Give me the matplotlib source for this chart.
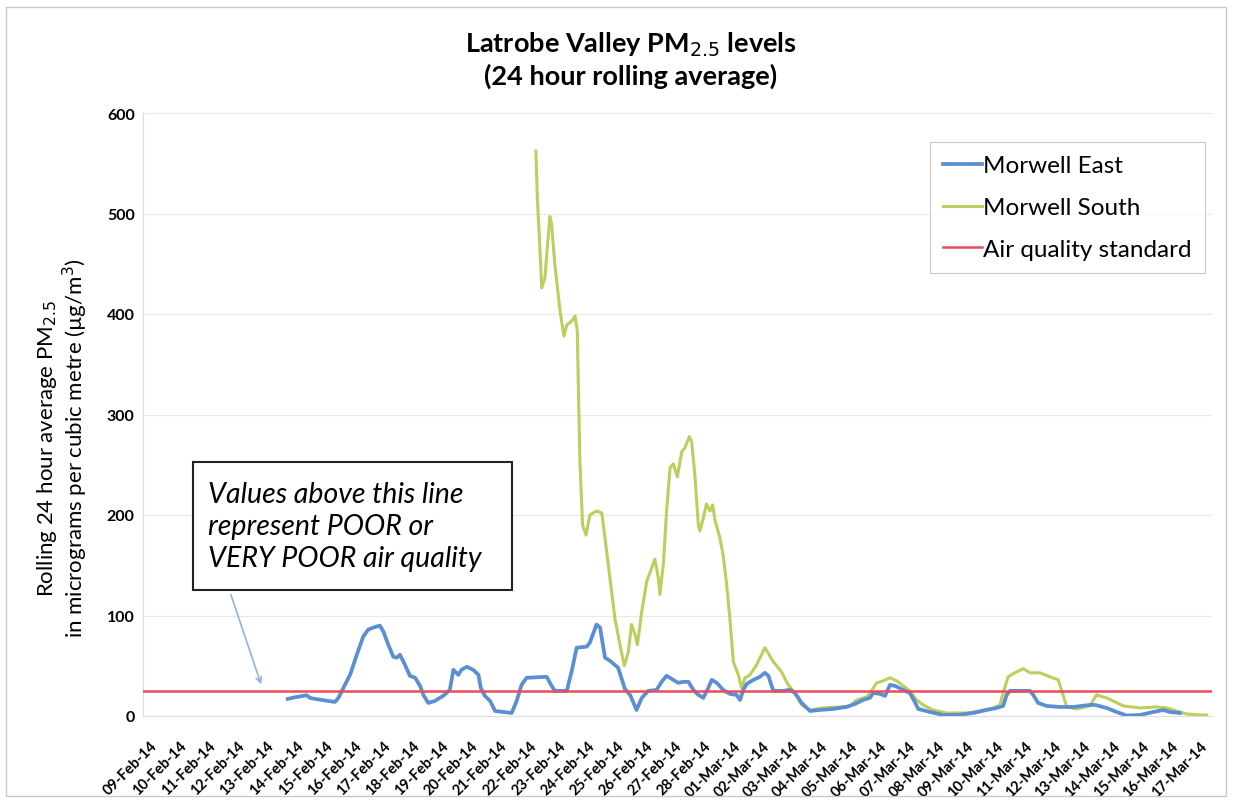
import matplotlib
matplotlib.use("Agg")
import matplotlib.pyplot as plt
from matplotlib.patches import Rectangle
import pandas as pd

# ---- data (x = days since 09-Feb-14 00:00) ----
east_day = [4.72, 4.97, 5.37, 5.49, 5.66, 6.06, 6.34, 6.46, 6.63, 6.86, 7.09, 7.31, 7.48, 7.66, 7.88,
            8.00, 8.17, 8.34, 8.46, 8.57, 8.74, 8.91, 9.09, 9.26, 9.37, 9.54, 9.77, 10.05, 10.28, 10.40,
            10.57, 10.68, 10.86, 11.08, 11.26, 11.34, 11.48, 11.66, 11.83, 12.11, 12.40, 12.57, 12.74,
            12.91, 13.60, 13.77, 13.88, 14.29, 14.46, 14.63, 14.97, 15.08, 15.31, 15.43, 15.60, 15.77,
            16.05, 16.28, 16.46, 16.68, 16.86, 17.08, 17.37, 17.54, 17.71, 17.94, 18.11, 18.28, 18.46,
            18.63, 18.80, 18.97, 19.14, 19.26, 19.43, 19.65, 19.88, 20.11, 20.23, 20.34, 20.46, 20.69,
            20.91, 21.08, 21.20, 21.37, 21.71, 21.94, 22.11, 22.34, 22.63, 22.97, 23.42, 23.88, 24.17,
            24.45, 24.68, 24.80, 25.02, 25.20, 25.37, 25.54, 25.82, 26.05, 26.22, 26.34, 26.74, 27.20,
            27.66, 28.22, 28.68, 29.03, 29.25, 29.37, 29.48, 30.17, 30.28, 30.45, 30.74, 31.20, 31.65,
            32.22, 32.40, 32.80, 33.14, 33.48, 33.94, 34.40, 34.74, 34.97, 35.31]
east_val = [17, 18.6, 20.6, 18, 17, 15.2, 14, 18, 28, 41, 61, 79, 86, 88, 90,
            84, 71, 59, 58, 61, 51, 40, 38, 30, 21, 13, 15, 20, 26, 46,
            41, 46, 49, 46, 41, 28, 20, 15, 5, 4, 3, 15, 31,
            38, 39, 30, 25, 25, 45, 68, 69, 73, 91, 88, 58, 55,
            48, 27, 21, 6, 18, 25, 26, 34, 40, 36, 33, 34, 34,
            26, 21, 18, 28, 36, 33, 26, 22, 21, 16, 26, 32, 36,
            39, 43, 40, 25, 25, 26, 23, 13, 5, 6, 7, 9, 12,
            16, 18, 23, 22, 20, 31, 30, 26, 23, 14, 7, 4, 1,
            1, 3, 6, 8, 10, 21, 25, 25, 21, 13, 10, 9, 9,
            11, 11, 8, 4, 0.5, 1, 4, 6, 4, 3]

south_day = [13.23, 13.28, 13.35, 13.43, 13.54, 13.62, 13.71, 13.77, 13.88, 14.06, 14.19, 14.29, 14.46,
             14.57, 14.65, 14.68, 14.74, 14.83, 14.95, 15.08, 15.31, 15.49, 15.60, 15.77, 15.94, 16.11,
             16.26, 16.40, 16.51, 16.63, 16.71, 16.86, 17.03, 17.20, 17.31, 17.43, 17.48, 17.60, 17.71,
             17.83, 17.94, 18.08, 18.23, 18.34, 18.49, 18.57, 18.68, 18.80, 18.85, 18.97, 19.08, 19.20,
             19.29, 19.37, 19.54, 19.65, 19.77, 19.88, 20.00, 20.17, 20.28, 20.40, 20.57, 20.80, 21.08,
             21.37, 21.65, 21.88, 22.11, 22.34, 22.63, 23.08, 23.65, 24.00, 24.23, 24.57, 24.74, 24.91,
             25.14, 25.37, 25.60, 25.82, 26.05, 26.28, 26.51, 26.85, 27.31, 28.00, 28.45, 28.91, 29.14,
             29.25, 29.42, 29.71, 29.94, 30.17, 30.51, 30.85, 31.14, 31.26, 31.43, 31.77, 32.22, 32.45,
             32.80, 33.37, 33.94, 34.51, 34.85, 35.20, 35.54, 36.00, 36.23]
south_val = [562, 515, 476, 426, 436, 466, 497, 489, 449, 403, 378, 389, 393,
             398, 383, 336, 253, 190, 180, 200, 204, 202, 177, 137, 97, 71,
             50, 64, 91, 81, 71, 104, 134, 147, 156, 137, 121, 151, 204,
             247, 251, 238, 263, 267, 278, 273, 240, 190, 184, 197, 211, 204,
             210, 195, 177, 160, 131, 97, 54, 41, 28, 38, 41, 51, 68,
             54, 44, 31, 23, 11, 6, 8, 9, 10, 16, 19, 25, 33,
             35, 38, 35, 30, 25, 16, 11, 6, 3, 3, 5, 8, 11,
             23, 39, 44, 47, 43, 43, 39, 36, 25, 9, 7, 10, 21,
             18, 10, 8, 9, 8, 5, 2, 1, 1]

standard = 25
date_labels = pd.date_range("2014-02-09", "2014-03-17", freq="D").strftime("%d-%b-%y").tolist()

# ---- figure ----
plt.rcParams["font.family"] = ["Lato", "DejaVu Sans"]
W, H = 1236, 812
fig = plt.figure(figsize=(W / 100, H / 100), dpi=100)
x0, x1, y0, y1 = 143, 1212, 114, 717
ax = fig.add_axes([x0 / W, 1 - y1 / H, (x1 - x0) / W, (y1 - y0) / H])

ax.plot(east_day, east_val, color="#5b8fd4", lw=2.7, label="Morwell East", zorder=4)
ax.plot(south_day, south_val, color="#bccf5c", lw=2.2, label="Morwell South", zorder=3)
ax.axhline(standard, color="#ee4a5c", lw=1.8, label="Air quality standard", zorder=5)

ax.set_ylim(0, 600)
ax.set_xlim(-0.24, 36.41)
ax.set_yticks(range(0, 601, 100))
ax.set_xticks(range(len(date_labels)))
ax.set_xticklabels(date_labels, rotation=45, ha="right", rotation_mode="anchor",
                   fontsize=10.5, fontweight="bold")
for lab in ax.get_yticklabels():
    lab.set_fontweight("bold")
    lab.set_fontsize(11.5)
ax.tick_params(axis="y", length=0, pad=6)
ax.tick_params(axis="x", length=0, pad=16)
ax.grid(axis="y", color="#e8e8e8", lw=0.8)
ax.set_axisbelow(True)
for s in ["top", "right"]:
    ax.spines[s].set_visible(False)
for s in ["left", "bottom"]:
    ax.spines[s].set_color("#dddddd")
    ax.spines[s].set_linewidth(0.8)

ax.set_ylabel("Rolling 24 hour average PM$_{2.5}$\nin micrograms per cubic metre (\u00b5g/m$^3$)",
              fontsize=16, linespacing=1.1)
ax.yaxis.set_label_coords((90 - x0) / (x1 - x0), 0.445)

fig.text(631 / W, 1 - 60 / H, "Latrobe Valley PM$_{2.5}$ levels\n(24 hour rolling average)",
         ha="center", va="center", fontsize=19.5, fontweight="bold", linespacing=1.2)

leg = ax.legend(loc="upper right",
                bbox_to_anchor=((1205 - x0) / (x1 - x0), (y1 - 143) / (y1 - y0)),
                fontsize=17.5, frameon=True, fancybox=False, edgecolor="#c0c0c0",
                handlelength=1.6, handletextpad=0.05, labelspacing=0.85, borderpad=0.55,
                borderaxespad=0)
leg.get_frame().set_linewidth(0.8)

# annotation box
bx0, bx1, by0, by1 = 193, 512, 463, 591
ax.add_patch(Rectangle(((bx0 - x0) / (x1 - x0), (y1 - by1) / (y1 - y0)),
                       (bx1 - bx0) / (x1 - x0), (by1 - by0) / (y1 - y0),
                       transform=ax.transAxes, facecolor="white", edgecolor="#222222",
                       lw=1.5, zorder=6))
ax.text((208 - x0) / (x1 - x0), (y1 - 527) / (y1 - y0),
        "Values above this line\nrepresent POOR or\nVERY POOR air quality",
        transform=ax.transAxes, ha="left", va="center", fontsize=20.5, style="italic",
        linespacing=1.27, zorder=7)
ax.annotate("", xy=((262 - x0) / (x1 - x0), (y1 - 688) / (y1 - y0)),
            xytext=((230 - x0) / (x1 - x0), (y1 - 593) / (y1 - y0)),
            xycoords="axes fraction", textcoords="axes fraction",
            arrowprops=dict(arrowstyle="->", color="#8db3e2", lw=1.2), zorder=6)

# outer chart border
fig.add_artist(Rectangle((6 / W, 1 - 797 / H), (1226 - 6) / W, (797 - 8) / H,
                         transform=fig.transFigure, fill=False, edgecolor="#c8c8c8", lw=1))

fig.savefig("out.png", dpi=100)
